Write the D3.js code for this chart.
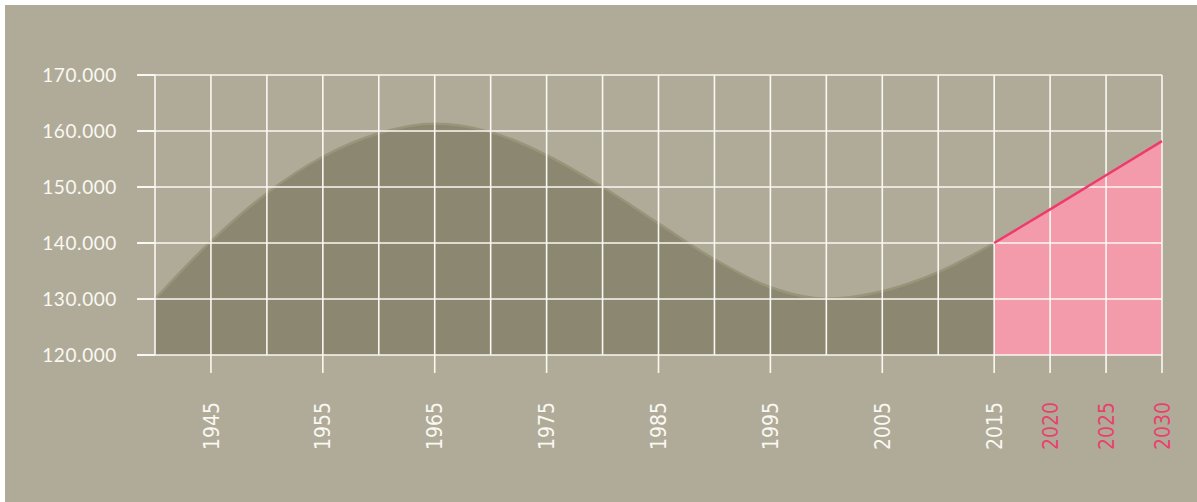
<!DOCTYPE html>
<html>
<head>
    <meta charset="utf-8">
    <title>Population</title>
    <style type="text/css">
    body { margin: 0; background: #ffffff; }
    svg { display: block; }
    </style>
</head>
<body>

    <script src="https://d3js.org/d3.v7.min.js"></script>
    <script>
      // history, every 5 years
      var years  = [1940, 1945, 1950, 1955, 1960, 1965, 1970, 1975, 1980, 1985, 1990, 1995, 2000, 2005, 2010, 2015];
      var values = [130000, 140300, 148900, 155400, 159600, 161300, 159800, 155700, 150000, 143500, 137100, 132100, 130050, 131400, 134800, 140000];

      // forecast
      var forecastYears  = [2015, 2020, 2025, 2030];
      var forecastValues = [140000, 146000, 152100, 158200];

      var gridYears  = d3.range(1940, 2031, 5);
      var labelYears = [1945, 1955, 1965, 1975, 1985, 1995, 2005, 2015, 2020, 2025, 2030];
      var yTicks     = [120000, 130000, 140000, 150000, 160000, 170000];

      var W = 1197, H = 502;
      var margin = {top: 75, right: 35, bottom: 147, left: 155},
          width  = W - margin.left - margin.right,
          height = H - margin.top - margin.bottom;

      var svg = d3.select("body")
          .append("svg")
          .attr("width", W)
          .attr("height", H);

      svg.append("rect")
          .attr("x", 5).attr("y", 5)
          .attr("width", W - 5).attr("height", H - 5)
          .attr("fill", "#b0ab98");

      var chart = svg.append("g")
          .attr("transform", "translate(" + margin.left + "," + margin.top + ")");

      var xScale = d3.scaleLinear().domain([1940, 2030]).range([0, width]);
      var yScale = d3.scaleLinear().domain([120000, 170000]).range([height, 0]);

      var hist = years.map(function(d, i){ return {year: d, value: values[i]}; });
      var fc   = forecastYears.map(function(d, i){ return {year: d, value: forecastValues[i]}; });

      var area = d3.area()
          .x(function(d){ return xScale(d.year); })
          .y0(height)
          .y1(function(d){ return yScale(d.value); })
          .curve(d3.curveMonotoneX);

      var line = d3.line()
          .x(function(d){ return xScale(d.year); })
          .y(function(d){ return yScale(d.value); })
          .curve(d3.curveMonotoneX);

      chart.append("path").datum(hist).attr("d", area).attr("fill", "#8b8770");
      chart.append("path").datum(fc).attr("d", area.curve(d3.curveLinear)).attr("fill", "#f39aab");

      chart.append("path").datum(hist).attr("d", line)
          .attr("fill", "none").attr("stroke", "#99957a").attr("stroke-width", 2.5);

      // grid
      chart.selectAll(".vgrid")
          .data(gridYears)
          .enter()
          .append("line")
          .attr("class", "vgrid")
          .attr("x1", function(d){ return xScale(d); })
          .attr("x2", function(d){ return xScale(d); })
          .attr("y1", 0)
          .attr("y2", function(d){ return labelYears.indexOf(d) >= 0 ? height + 18 : height; })
          .attr("stroke", "#faf8f2")
          .attr("stroke-width", 1.6);

      chart.selectAll(".hgrid")
          .data(yTicks)
          .enter()
          .append("line")
          .attr("class", "hgrid")
          .attr("x1", 0)
          .attr("x2", width)
          .attr("y1", function(d){ return yScale(d); })
          .attr("y2", function(d){ return yScale(d); })
          .attr("stroke", "#faf8f2")
          .attr("stroke-width", 1.6);

      // y ticks + labels
      chart.selectAll(".ytick")
          .data(yTicks)
          .enter()
          .append("line")
          .attr("x1", -18).attr("x2", 0)
          .attr("y1", function(d){ return yScale(d); })
          .attr("y2", function(d){ return yScale(d); })
          .attr("stroke", "#faf8f2")
          .attr("stroke-width", 2);

      chart.selectAll(".ylabel")
          .data(yTicks)
          .enter()
          .append("text")
          .attr("class", "ylabel")
          .attr("x", -38)
          .attr("y", function(d){ return yScale(d); })
          .attr("dy", "0.36em")
          .attr("text-anchor", "end")
          .attr("font-family", "Lato, 'Open Sans', sans-serif")
          .attr("font-size", "19px")
          .attr("letter-spacing", "0.6px")
          .attr("fill", "#faf8f2")
          .text(function(d){ return d3.format(",")(d).replace(/,/g, "."); });

      chart.line = line;

      chart.append("path").datum(fc).attr("d", line.curve(d3.curveLinear))
          .attr("fill", "none").attr("stroke", "#ef3b6c").attr("stroke-width", 2.5);

      // x labels
      chart.selectAll(".xlabel")
          .data(labelYears)
          .enter()
          .append("text")
          .attr("class", "xlabel")
          .attr("transform", function(d){ return "translate(" + xScale(d) + "," + (height + 47) + ") rotate(-90)"; })
          .attr("dy", "0.36em")
          .attr("text-anchor", "end")
          .attr("font-family", "'Liberation Sans Narrow', 'DejaVu Sans Condensed', sans-serif")
          .attr("font-size", "21px")
          .attr("fill", function(d){ return d > 2015 ? "#e9416d" : "#faf8f2"; })
          .text(function(d){ return d; });
    </script>
</body>
</html>
